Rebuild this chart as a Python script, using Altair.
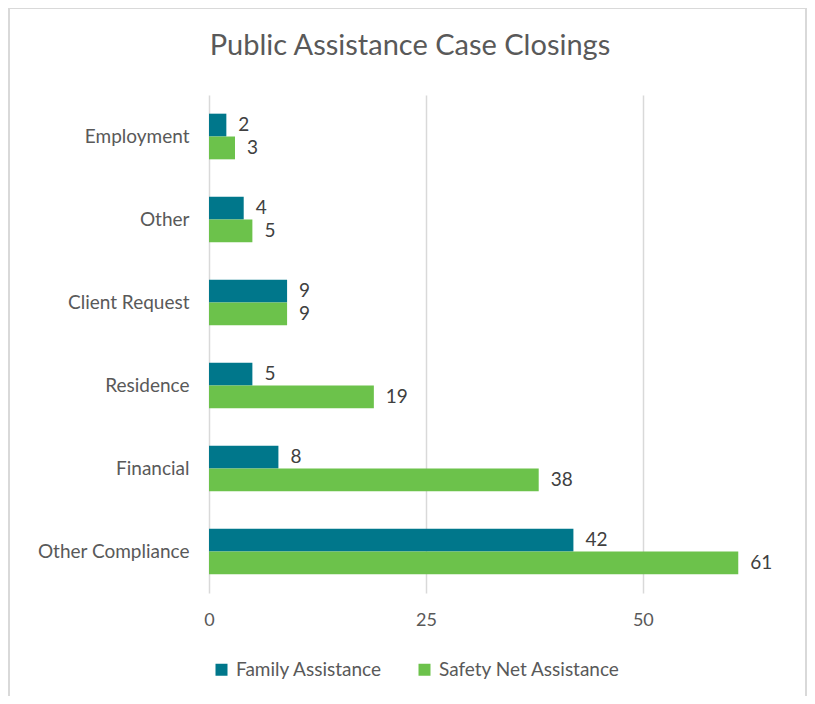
import altair as alt
import pandas as pd

categories = ["Employment", "Other", "Client Request", "Residence", "Financial", "Other Compliance"]
family = [2, 4, 9, 5, 8, 42]
safety = [3, 5, 9, 19, 38, 61]
series = ["Family Assistance", "Safety Net Assistance"]
colors = ["#00778B", "#6CC24B"]
title_text = "Public Assistance Case Closings"

rows = []
for c, f, s in zip(categories, family, safety):
    rows.append({"Category": c, "Series": series[0], "Value": f})
    rows.append({"Category": c, "Series": series[1], "Value": s})
df = pd.DataFrame(rows)

FONT = "Lato"

y_enc = alt.Y("Category:N", sort=categories,
              scale=alt.Scale(paddingInner=0.45, paddingOuter=0.225),
              axis=alt.Axis(title=None, labelFontSize=19, labelColor="#595959", labelFont=FONT,
                            ticks=False, domain=False, labelPadding=20, grid=False))
x_enc = alt.X("Value:Q", scale=alt.Scale(domain=[0, 68], nice=False),
              axis=alt.Axis(title=None, values=[0, 25, 50], labelFontSize=18, labelColor="#595959",
                            labelFont=FONT, ticks=False, domain=False, labelPadding=18,
                            labelFlush=False,
                            grid=True, gridColor="#d9d9d9", gridWidth=1.5))
yoff = alt.YOffset("Series:N", sort=series)

bars = alt.Chart(df).mark_bar().encode(
    x=x_enc, y=y_enc, yOffset=yoff,
    color=alt.Color("Series:N", sort=series,
                    scale=alt.Scale(domain=series, range=colors),
                    legend=alt.Legend(title=None, orient="none", legendX=3, legendY=565,
                                      direction="horizontal", symbolType="square", symbolSize=144,
                                      labelFontSize=19, labelColor="#595959", labelFont=FONT,
                                      columnPadding=32, symbolStrokeWidth=0, labelOffset=5,
                                      labelLimit=400))
)

labels = alt.Chart(df).mark_text(align="left", baseline="middle", dx=12, fontSize=19,
                                 color="#404040", font=FONT).encode(
    x="Value:Q", y=alt.Y("Category:N", sort=categories), yOffset=yoff, text="Value:Q"
)

frame = alt.Chart(df).mark_rect(fill=None, stroke="#d9d9d9", strokeWidth=2).encode(
    x=alt.value(-200), x2=alt.value(597), y=alt.value(-87), y2=alt.value(640)
)

title = alt.Chart(pd.DataFrame({"t": [title_text]})).mark_text(
    align="center", baseline="alphabetic", fontSize=29, font=FONT, color="#595959"
).encode(x=alt.value(201), y=alt.value(-40), text="t:N")

chart = alt.layer(frame, bars, labels, title).properties(
    width=590, height=498,
    autosize=alt.AutoSizeParams(type="none"),
    padding={"left": 201, "top": 87, "right": 8, "bottom": 103},
).configure_view(stroke=None)

chart.save("out.html", embed_options={"renderer": "svg", "actions": False})
